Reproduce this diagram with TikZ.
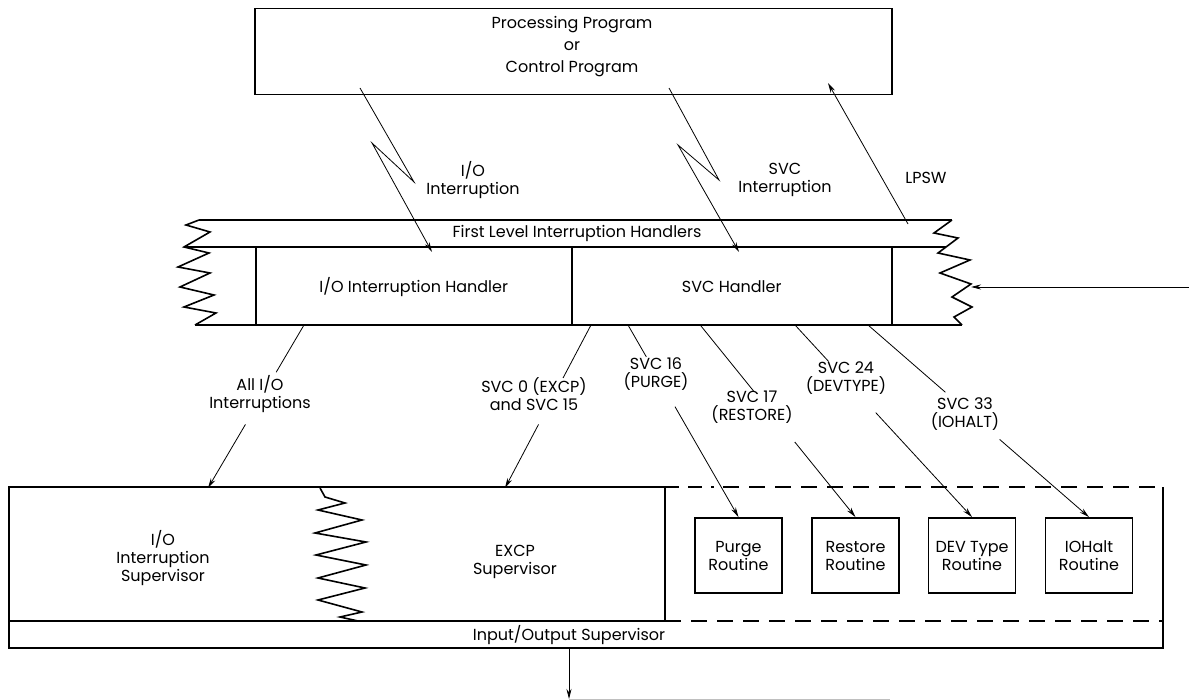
\documentclass[tikz,border=0pt]{standalone}
\usepackage{fontspec}
\setmainfont{Poppins}
\usetikzlibrary{arrows.meta,calc}
\begin{document}
\begin{tikzpicture}[x=1pt,y=-1pt,
  txt/.style={font=\fontsize{16}{18}\selectfont, align=center, inner sep=0pt},
  boxline/.style={line width=1.5pt},
  thinline/.style={line width=0.8pt},
  arrowline/.style={thinline, -{Stealth[length=10pt,width=5pt]}},
  zig/.style={line width=1.6pt, line join=miter},
  frame/.style={draw, boxline, anchor=north west, inner sep=0pt},
  routine/.style={draw, line width=1.8pt, minimum width=87pt, minimum height=75pt, txt},
  dashline/.style={line width=1.5pt, dash pattern=on 16pt off 10pt}
]
\useasboundingbox (0,0) rectangle (1189,700);

% ---------- calling program ----------
\node[frame, minimum width=637pt, minimum height=86pt] (prog) at (254,8) {};
\node[txt, font=\fontsize{16}{22}\selectfont] (progtext) at (572,47)
  {Processing Program\\or\\Control Program};

% ---------- first level interruption handlers ----------
\draw[boxline] (199,220) -- (952,220);
\draw[boxline] (184,247) -- (946,247);
\draw[boxline] (195,325) -- (962,325);
\node[frame, minimum width=316pt, minimum height=78pt, txt] (ioh) at (255,247)
  {I/O Interruption Handler};
\node[frame, minimum width=320pt, minimum height=78pt, txt] (svch) at (571,247)
  {SVC Handler};
\node[txt] (flih) at (577,233) {First Level Interruption Handlers};

% torn edges of the handler band
\draw[zig] (199,220) -- (186,225) -- (210,232) -- (184,247) -- (209,253) -- (178,267)
  -- (210,273) -- (180,287) -- (214,295) -- (184,307) -- (216,313) -- (195,325);
\draw[zig] (952,220) -- (934,233) -- (958,238) -- (938,253) -- (970,260) -- (940,273)
  -- (971,284) -- (952,297) -- (972,307) -- (954,317) -- (962,325);

% ---------- interruptions into the handlers ----------
\coordinate (ioA) at (360,88);
\coordinate (ioB) at (414,182);
\coordinate (ioC) at (372,143);
\coordinate (ioT) at (432,252);
\draw[arrowline] (ioA) -- (ioB) -- (ioC) -- (ioT);
\node[txt] (iolbl) at (473,180) {I/O\\Interruption};

\coordinate (svA) at (669,88);
\coordinate (svB) at (719,180);
\coordinate (svC) at (678,145);
\coordinate (svT) at (739,252);
\draw[arrowline] (svA) -- (svB) -- (svC) -- (svT);
\node[txt] (svlbl) at (785,180) {SVC\\Interruption};

\coordinate (lpA) at (908,224);
\coordinate (lpT) at (828,83);
\draw[arrowline] (lpA) -- (lpT);
\node[txt] (lpsw) at (926,178) {LPSW};

\coordinate (extin) at (1189,287);
\coordinate (extT) at (971,287);
\draw[arrowline] (extin) -- (extT);

% ---------- input/output supervisor ----------
\draw[boxline] (665,487) -- (9,487) -- (9,648) -- (1163,648) -- (1163,487);
\draw[dashline, dash pattern=on 14pt off 9pt on 14pt off 9pt on 3pt off 9pt]
  (665,487) -- (723,487);
\draw[dashline] (723,487) -- (1163,487);
\draw[boxline] (9,621) -- (665,621);
\draw[boxline] (665,487) -- (665,621);
\draw[dashline] (665,621) -- (1163,621);

\node[txt] (iosup) at (163,558) {I/O\\Interruption\\Supervisor};
\node[txt] (excp) at (515,562) {EXCP\\Supervisor};
\node[txt] (iosv) at (569,635) {Input/Output Supervisor};

% boundary between the two supervisors
\draw[zig] (320,488) -- (325,497) -- (345,503) -- (318,510) -- (362,520) -- (315,533)
  -- (366,542) -- (316,555) -- (366,565) -- (318,578) -- (365,588) -- (318,600)
  -- (362,612) -- (340,617) -- (358,621);

\node[routine] (purge) at (738.5,555.5) {Purge\\Routine};
\node[routine] (restore) at (855.5,555.5) {Restore\\Routine};
\node[routine] (devtype) at (972,555.5) {DEV Type\\Routine};
\node[routine] (iohalt) at (1089,555.5) {IOHalt\\Routine};

\coordinate (ioT2) at (208,488);
\coordinate (exT) at (505,488);

% ---------- dispatch from the handlers ----------
\coordinate (d1) at (304,325);
\coordinate (d2) at (591,325);
\coordinate (d3) at (628,325);
\coordinate (d4) at (701,326);
\coordinate (d5) at (795,325);
\coordinate (d6) at (868,325);

\draw[thinline] (d1) -- ($(d1)!0.29!(ioT2)$);
\draw[arrowline] ($(d1)!0.61!(ioT2)$) -- (ioT2);
\node[txt] (l1) at (260,394) {All I/O\\Interruptions};

\draw[thinline] (d2) -- ($(d2)!0.325!(exT)$);
\draw[arrowline] ($(d2)!0.61!(exT)$) -- (exT);
\node[txt] (l2) at (534,394) {SVC 0 (EXCP)\\and SVC 15};

\draw[thinline] (d3) -- ($(d3)!0.166!(purge.north)$);
\draw[arrowline] ($(d3)!0.425!(purge.north)$) -- (purge.north);
\node[txt] (l3) at (656,374) {SVC 16\\(PURGE)};

\draw[thinline] (d4) -- ($(d4)!0.34!(restore.north)$);
\draw[arrowline] ($(d4)!0.607!(restore.north)$) -- (restore.north);
\node[txt] (l4) at (752,407) {SVC 17\\(RESTORE)};

\draw[thinline] (d5) -- ($(d5)!0.19!(devtype.north)$);
\draw[arrowline] ($(d5)!0.456!(devtype.north)$) -- (devtype.north);
\node[txt] (l5) at (846,378) {SVC 24\\(DEVTYPE)};

\draw[thinline] (d6) -- ($(d6)!0.35!(iohalt.north)$);
\draw[arrowline] ($(d6)!0.596!(iohalt.north)$) -- (iohalt.north);
\node[txt] (l6) at (965,414) {SVC 33\\(IOHALT)};

% ---------- exit ----------
\coordinate (iosvbot) at (569,648);
\coordinate (exit) at (569,699);
\coordinate (nextend) at (890,699);
\draw[line width=0.8pt, black!25] (exit) -- (nextend);
\draw[arrowline] (iosvbot) -- (exit);
\end{tikzpicture}
\end{document}
